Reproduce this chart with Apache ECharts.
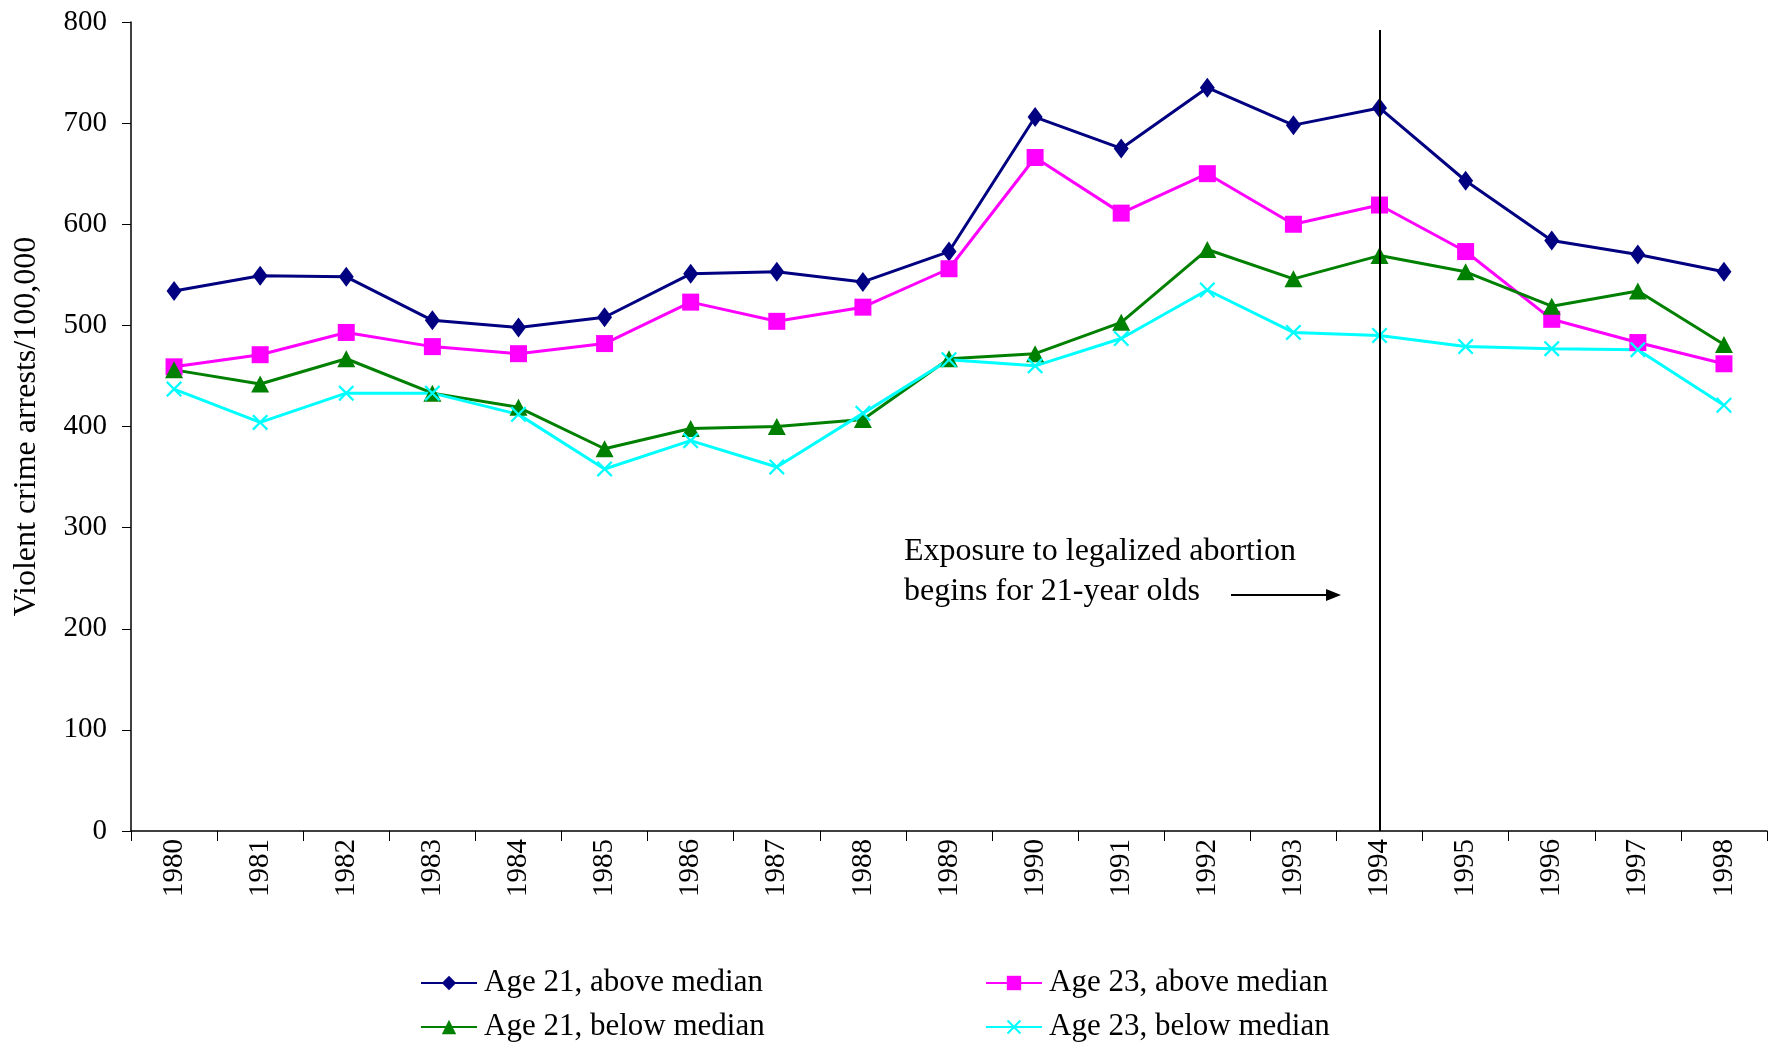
<!DOCTYPE html>
<html>
<head>
<meta charset="utf-8">
<script src="https://cdn.jsdelivr.net/npm/echarts@6/dist/echarts.min.js"></script>
<style>
html,body{margin:0;padding:0;background:#fff;}
#main{width:1776px;height:1046px;}
</style>
</head>
<body>
<div id="main"></div>
<script>
var years = ['1980','1981','1982','1983','1984','1985','1986','1987','1988','1989',
             '1990','1991','1992','1993','1994','1995','1996','1997','1998'];

// Age 21, above median
var age21Above = [534, 549, 548, 505, 498, 508, 551, 553, 543, 573, 706, 675, 735, 698, 715, 643, 584, 570, 553];
// Age 23, above median
var age23Above = [459, 471, 493, 479, 472, 482, 523, 504, 518, 556, 666, 611, 650, 600, 619, 573, 506, 483, 462];
// Age 21, below median
var age21Below = [456, 442, 467, 433, 419, 378, 398, 400, 407, 467, 472, 503, 575, 546, 569, 553, 519, 534, 481];
// Age 23, below median
var age23Below = [437, 404, 433, 433, 412, 358, 386, 360, 413, 466, 460, 487, 535, 493, 490, 479, 477, 476, 421];

var yTicks = {min: 0, max: 800, step: 100};
var markYear = '1994';

var chart = echarts.init(document.getElementById('main'));
var font = '"Liberation Serif", "Times New Roman", serif';
var crossPath = 'path://M0,1 L1,0 L5,4 L9,0 L10,1 L6,5 L10,9 L9,10 L5,6 L1,10 L0,9 L4,5 Z';

function lineSeries(name, data, color, symbol, size){
    return {
        name: name,
        type: 'line',
        data: data,
        symbol: symbol,
        symbolSize: size,
        showAllSymbol: true,
        lineStyle: {color: color, width: 3},
        itemStyle: {color: color},
        emphasis: {disabled: true},
        animation: false
    };
}

function legendItem(name, left, top){
    return {
        data: [name],
        left: left,
        top: top,
        itemWidth: 56,
        itemHeight: 18,
        textStyle: {color: '#000', fontFamily: font, fontSize: 31, lineHeight: 34, padding: [0, 0, 0, 2]},
        selectedMode: false
    };
}

var s1 = lineSeries('Age 21, above median', age21Above, '#000080', 'diamond', [15, 20]);
s1.markLine = {
    silent: true,
    symbol: 'none',
    label: {show: false},
    lineStyle: {color: '#000', width: 2, type: 'solid'},
    data: [[{coord: [markYear, 792]}, {coord: [markYear, 0]}]],
    animation: false
};

var option = {
    backgroundColor: '#fff',
    grid: {left: 131, right: 9, top: 22, bottom: 215},
    xAxis: {
        type: 'category',
        data: years,
        boundaryGap: true,
        axisLine: {lineStyle: {color: '#000', width: 1.5}},
        axisTick: {show: true, length: 10, lineStyle: {color: '#000'}},
        axisLabel: {
            rotate: 90,
            margin: 8,
            color: '#000',
            fontFamily: font,
            fontSize: 29,
            interval: 0
        },
        splitLine: {show: false}
    },
    yAxis: {
        type: 'value',
        min: yTicks.min,
        max: yTicks.max,
        interval: yTicks.step,
        name: 'Violent crime arrests/100,000',
        nameLocation: 'middle',
        nameGap: 88,
        nameRotate: 90,
        nameTextStyle: {color: '#000', fontFamily: font, fontSize: 32},
        axisLine: {show: true, lineStyle: {color: '#000', width: 1.5}},
        axisTick: {show: true, length: 9, lineStyle: {color: '#000'}},
        axisLabel: {color: '#000', fontFamily: font, fontSize: 29, margin: 24},
        splitLine: {show: false}
    },
    legend: [
        legendItem('Age 21, above median', 415, 961),
        legendItem('Age 21, below median', 415, 1005),
        legendItem('Age 23, above median', 980, 961),
        legendItem('Age 23, below median', 980, 1005)
    ],
    graphic: [{
        type: 'text',
        left: 904,
        top: 532,
        style: {
            text: 'Exposure to legalized abortion\nbegins for 21-year olds',
            fill: '#000',
            font: '32px ' + font,
            lineHeight: 40
        }
    }, {
        type: 'line',
        shape: {x1: 1231, y1: 595, x2: 1328, y2: 595},
        style: {stroke: '#000', lineWidth: 2}
    }, {
        type: 'polygon',
        shape: {points: [[1326, 589], [1341, 595], [1326, 601]]},
        style: {fill: '#000'}
    }],
    series: [
        s1,
        lineSeries('Age 23, above median', age23Above, '#FF00FF', 'rect', 17),
        lineSeries('Age 21, below median', age21Below, '#008000', 'triangle', [18, 17]),
        lineSeries('Age 23, below median', age23Below, '#00FFFF', crossPath, 16)
    ]
};

chart.setOption(option);
</script>
</body>
</html>
